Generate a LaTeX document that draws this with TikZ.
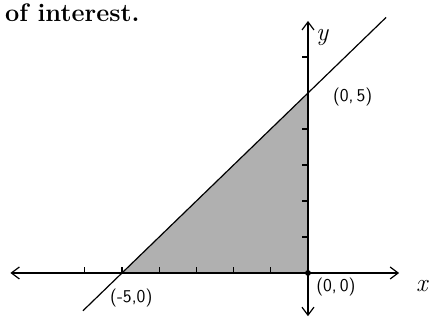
\documentclass[tikz,border=0pt]{standalone}
\usetikzlibrary{arrows.meta}
\begin{document}
\begin{tikzpicture}[x=27.9pt,y=27pt,
  axis/.style={line width=0.9pt,-{Straight Barb[length=6pt,width=9pt]}},
  tick/.style={line width=0.8pt},
  lbl/.style={font=\sffamily\fontsize{13.5}{15}\selectfont, inner sep=0pt},
  axlbl/.style={font=\itshape\fontsize{19}{21}\selectfont, inner sep=0pt}]
\useasboundingbox (-8.28,-1.306) rectangle (3.28,7.583);
% shaded region
\fill[gray!62] (-5,0) -- (0,5) -- (0,0) -- cycle;
\coordinate (O) at (0,0);
\coordinate (A) at (0,5);
\coordinate (B) at (-5,0);
\coordinate (xl) at (-8.0,0);
\coordinate (xr) at (2.45,0);
\coordinate (yt) at (0,7.0);
\coordinate (yb) at (0,-1.2);
\coordinate (l1) at (-6.05,-1.05);
\coordinate (l2) at (2.1,7.1);
% axes
\draw[axis] (O) -- (xr);
\draw[axis] (O) -- (xl);
\draw[axis] (O) -- (yt);
\draw[axis] (O) -- (yb);
% ticks
\foreach \i in {-6,-5,-4,-3,-2,-1}
  \draw[tick] (\i,0) -- (\i,0.16);
\foreach \j in {1,2,3,4,6}
  \draw[tick] (0,\j) -- (-0.15,\j);
% line
\draw[line width=0.9pt] (l1) -- (l2);
\fill (O) circle (2.2pt);
% labels
\node[lbl] (p05) at (1.2,4.89) {(0,\,5)};
\node[lbl] (pm50) at (-4.75,-0.69) {(-5,0)};
\node[lbl] (p00) at (0.75,-0.39) {(0,\,0)};
\node[axlbl] (xlab) at (3.06,-0.36) {x};
\node[axlbl] (ylab) at (0.38,6.53) {y};
\node[anchor=west, inner sep=0pt, font=\bfseries\fontsize{19}{21}\selectfont] (txt) at (-8.15,7.24) {of interest.};
\end{tikzpicture}
\end{document}
